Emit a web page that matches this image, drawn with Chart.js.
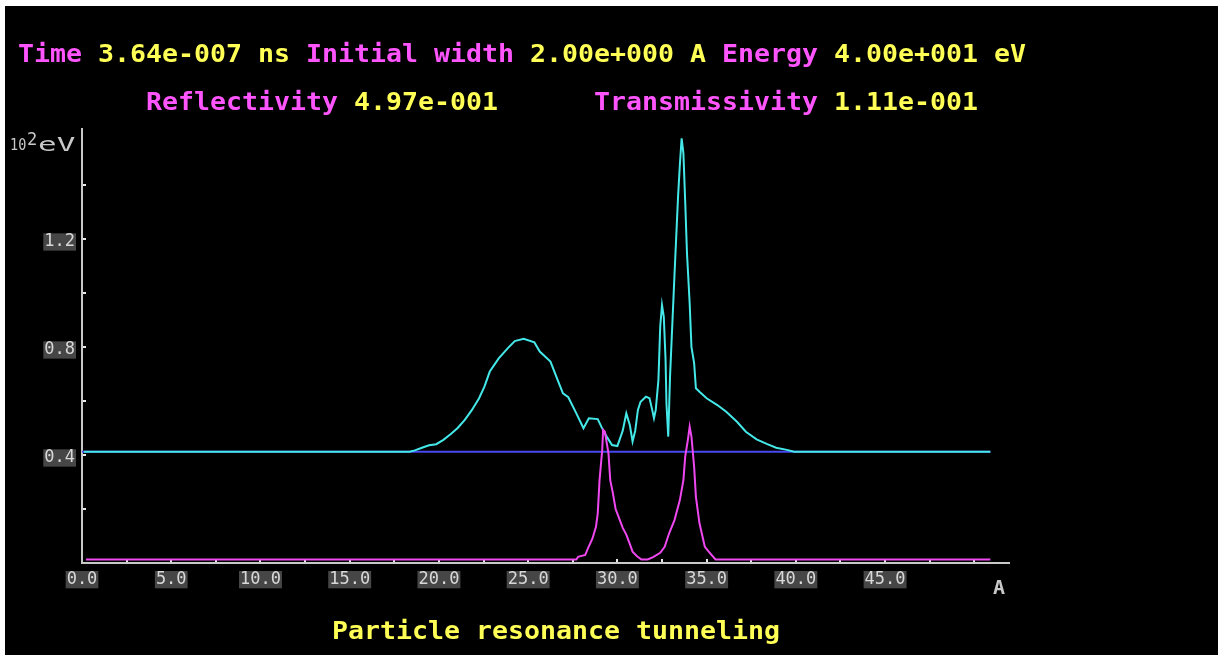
<!DOCTYPE html>
<html><head><meta charset="utf-8">
<script src="https://cdn.jsdelivr.net/npm/chart.js@4.4.1/dist/chart.umd.min.js"></script>
<style>html,body{margin:0;padding:0;background:#fff;overflow:hidden}canvas{display:block}</style>
</head><body><canvas id="c" width="1225" height="660"></canvas>
<script>
// ---- data ----
const waveX = [0.1, 18.35, 18.65, 19.05, 19.45, 19.85, 20.25, 20.65, 21.05, 21.45, 21.85, 22.25, 22.55, 22.85, 23.35, 23.85, 24.25, 24.75, 25.35, 25.65, 26.25, 26.65, 26.95, 27.25, 27.7, 28.1, 28.4, 28.9, 29.1, 29.4, 29.7, 30.0, 30.3, 30.5, 30.7, 30.85, 31.0, 31.15, 31.3, 31.6, 31.8, 31.95, 32.05, 32.15, 32.3, 32.4, 32.5, 32.6, 32.7, 32.75, 32.85, 32.95, 33.2, 33.4, 33.5, 33.6, 33.7, 33.8, 33.9, 34.05, 34.15, 34.3, 34.4, 34.6, 35.0, 35.6, 36.1, 36.7, 37.2, 37.8, 38.4, 38.9, 39.5, 39.9, 50.9];
const waveY = [0.412, 0.412, 0.417, 0.427, 0.436, 0.44, 0.456, 0.477, 0.50, 0.53, 0.567, 0.61, 0.653, 0.709, 0.758, 0.795, 0.822, 0.83, 0.817, 0.783, 0.746, 0.678, 0.628, 0.614, 0.554, 0.499, 0.536, 0.533, 0.505, 0.468, 0.437, 0.433, 0.49, 0.554, 0.51, 0.45, 0.49, 0.567, 0.597, 0.616, 0.61, 0.567, 0.536, 0.567, 0.678, 0.875, 0.955, 0.912, 0.752, 0.59, 0.468, 0.69, 1.067, 1.357, 1.474, 1.573, 1.517, 1.338, 1.147, 0.962, 0.80, 0.74, 0.647, 0.634, 0.61, 0.585, 0.56, 0.523, 0.486, 0.458, 0.44, 0.427, 0.419, 0.412, 0.412];
const transX = [0.22, 27.7, 27.8, 28.2, 28.35, 28.6, 28.8, 28.9, 29.0, 29.15, 29.2, 29.3, 29.5, 29.6, 29.75, 29.9, 30.1, 30.3, 30.5, 30.7, 30.85, 31.1, 31.35, 31.7, 32.0, 32.4, 32.65, 32.9, 33.2, 33.5, 33.7, 33.8, 33.95, 34.05, 34.15, 34.3, 34.4, 34.6, 34.9, 35.2, 35.5, 50.9];
const transY = [0.013, 0.013, 0.023, 0.03, 0.054, 0.09, 0.134, 0.184, 0.307, 0.418, 0.493, 0.486, 0.406, 0.307, 0.258, 0.20, 0.165, 0.13, 0.105, 0.07, 0.042, 0.025, 0.013, 0.013, 0.022, 0.038, 0.06, 0.11, 0.159, 0.233, 0.307, 0.394, 0.456, 0.505, 0.468, 0.357, 0.245, 0.147, 0.06, 0.036, 0.013, 0.013];
const energyX = [0, 50.9];
const energyY = [0.412, 0.412];
const xTickLabels = ['0.0', '5.0', '10.0', '15.0', '20.0', '25.0', '30.0', '35.0', '40.0', '45.0'];
const yTickLabels = ['0.4', '0.8', '1.2'];
const headerLine1 = [['Time ', 'm'], ['3.64e-007 ns ', 'y'], ['Initial width ', 'm'], ['2.00e+000 A ', 'y'], ['Energy ', 'm'], ['4.00e+001 eV', 'y']];
const headerLine2 = [['Reflectivity ', 'm'], ['4.97e-001      ', 'y'], ['Transmissivity ', 'm'], ['1.11e-001', 'y']];
const bottomTitle = 'Particle resonance tunneling';
const xUnit = 'A';
const yUnit = ['10', '2', 'eV'];

// ---- styles ----
const COL = { m: '#ff55ff', y: '#ffff55' };
const GRAY = '#c8c8c8';

function pts(xs, ys) { return xs.map((x, i) => ({ x: x, y: ys[i] })); }
function matchLabel(list, v) { const l = list.find(s => Math.abs(parseFloat(s) - v) < 1e-6); return l || ''; }

function monoText(ctx, segs, x0, base, pitch, size) {
  ctx.save();
  ctx.font = 'bold ' + size + 'px "DejaVu Sans Mono"';
  ctx.textAlign = 'center';
  ctx.textBaseline = 'alphabetic';
  const sx = pitch / ctx.measureText('M').width;
  let i = 0;
  segs.forEach(([txt, c]) => {
    ctx.fillStyle = COL[c] || c;
    for (const ch of txt) {
      if (ch !== ' ') {
        ctx.save();
        ctx.translate(x0 + i * pitch + pitch / 2, base);
        ctx.scale(Math.min(sx, 1.2), 1);
        ctx.fillText(ch, 0, 0);
        ctx.restore();
      }
      i++;
    }
  });
  ctx.restore();
}

const deco = {
  id: 'deco',
  beforeDraw(chart) {
    const ctx = chart.ctx;
    ctx.save();
    ctx.fillStyle = '#ffffff'; ctx.fillRect(0, 0, chart.width, chart.height);
    ctx.fillStyle = '#000000'; ctx.fillRect(5, 6, 1213, 649);
    ctx.restore();
  },
  beforeDatasetsDraw(chart) {
    const ctx = chart.ctx, a = chart.chartArea, xs = chart.scales.x, ys = chart.scales.y;
    ctx.save();
    ctx.strokeStyle = GRAY; ctx.lineWidth = 2;
    ctx.beginPath();
    ctx.moveTo(a.left, a.top); ctx.lineTo(a.left, a.bottom); ctx.lineTo(a.right, a.bottom);
    ctx.stroke();
    ctx.fillStyle = '#e8e8e8';
    xs.ticks.forEach(t => {
      if (t.value > 1e-9 && t.value < xs.max - 1) {
        const px = Math.round(xs.getPixelForValue(t.value));
        ctx.fillRect(px - 1, a.bottom - 4, 2, 3);
      }
    });
    ys.ticks.forEach(t => {
      if (t.value > 1e-9 && t.value < 1.5) {
        const py = Math.round(ys.getPixelForValue(t.value));
        ctx.fillRect(a.left + 1, py - 1, 3, 2);
      }
    });
    ctx.restore();
  },
  afterDraw(chart) {
    const ctx = chart.ctx;
    monoText(ctx, headerLine1, 18, 62, 16, 24);
    monoText(ctx, headerLine2, 146, 110, 16, 24);
    monoText(ctx, [[bottomTitle, 'y']], 332, 639, 16, 24);
    ctx.save();
    ctx.fillStyle = GRAY;
    ctx.textBaseline = 'alphabetic';
    ctx.font = 'bold 20px "DejaVu Sans Mono"';
    ctx.textAlign = 'center';
    ctx.fillText(xUnit, 999, 594);
    ctx.textAlign = 'left';
    ctx.font = '15px "DejaVu Sans Mono"';
    ctx.save(); ctx.translate(10, 150); ctx.scale(0.9, 1); ctx.fillText(yUnit[0], 0, 0); ctx.restore();
    ctx.font = '17px "DejaVu Sans Mono"';
    ctx.fillText(yUnit[1], 27, 145);
    ctx.font = '20px "DejaVu Sans Mono"';
    ctx.save(); ctx.translate(38, 151); ctx.scale(1.55, 1); ctx.fillText(yUnit[2], 0, 0); ctx.restore();
    ctx.restore();
  }
};

const tickFont = { family: 'DejaVu Sans Mono', size: 17, lineHeight: 0.9 };
const backdrop = (c) => (c.tick && c.tick.label) ? '#464646' : 'rgba(0,0,0,0)';

new Chart(document.getElementById('c').getContext('2d'), {
  type: 'line',
  data: {
    datasets: [
      { data: pts(transX, transY), borderColor: '#f048f0', borderWidth: 2, pointRadius: 0, tension: 0 },
      { data: pts(waveX, waveY), borderColor: '#44e8e8', borderWidth: 2, pointRadius: 0, tension: 0 },
      { data: pts(energyX, energyY), borderColor: '#4848f0', borderWidth: 2, pointRadius: 0, tension: 0 }
    ]
  },
  options: {
    responsive: false, animation: false, devicePixelRatio: 1,
    layout: { padding: { left: 0, top: 128, right: 215, bottom: 0 } },
    plugins: { legend: { display: false }, tooltip: { enabled: false } },
    scales: {
      x: {
        type: 'linear', min: 0, max: 52,
        afterFit: s => { s.height = 97; },
        grid: { display: false, drawTicks: false }, border: { display: false },
        ticks: {
          stepSize: 2.5, autoSkip: false, maxRotation: 0, padding: 9, color: '#d8d8d8', font: tickFont,
          showLabelBackdrop: true, backdropColor: backdrop, backdropPadding: { top: 1, bottom: 1, left: 1, right: 1 },
          callback: v => matchLabel(xTickLabels, v)
        }
      },
      y: {
        type: 'linear', min: 0, max: 1.611,
        afterFit: s => { s.width = 82; },
        grid: { display: false, drawTicks: false }, border: { display: false },
        ticks: {
          stepSize: 0.2, autoSkip: false, padding: 7, labelOffset: 3, color: '#d8d8d8', font: tickFont,
          showLabelBackdrop: true, backdropColor: backdrop, backdropPadding: { top: 1, bottom: 1, left: 1, right: 1 },
          callback: v => matchLabel(yTickLabels, v)
        }
      }
    }
  },
  plugins: [deco]
});
</script>
</body></html>
